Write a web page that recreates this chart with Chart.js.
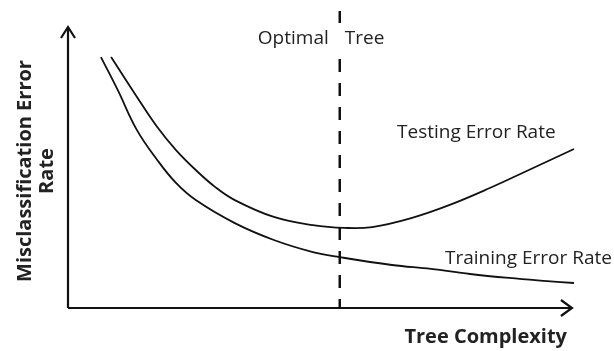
<!DOCTYPE html>
<html lang="en">
<head>
    <meta charset="UTF-8">
    <title>Optimal Tree</title>
    <style>
        html, body { margin: 0; padding: 0; background: #fff; overflow: hidden; }
        .chart-container { width: 614px; height: 351px; }
    </style>
</head>
<body>
    <div class="chart-container">
        <canvas id="treeChart" width="614" height="351"></canvas>
    </div>

    <script src="https://cdn.jsdelivr.net/npm/chart.js"></script>
    <script>
        // values (x: complexity 0-100, y: error rate 0-100)
        const trainingX = [6.5, 9.8, 13.6, 17.6, 21.3, 25.2, 32.9, 40.6, 48.3, 53.6, 63.9, 71.6, 79.3, 87.0, 94.5, 99.8];
        const trainingY = [89.3, 77.6, 63.3, 52.7, 44.5, 38.4, 30.2, 24.2, 19.9, 18.1, 15.3, 13.9, 12.1, 10.7, 9.6, 8.9];
        const testingX = [8.5, 13.6, 17.6, 21.3, 25.2, 29.0, 32.9, 40.6, 48.3, 54.6, 60.0, 67.7, 75.3, 83.2, 90.9, 99.8];
        const testingY = [89.3, 75.1, 64.4, 56.2, 49.1, 43.1, 38.4, 32.4, 29.5, 28.5, 28.8, 32.0, 36.7, 42.7, 49.1, 56.6];
        const optimalX = 53.6;
        const axisEndX = 99.4;

        const xTitle = 'Tree Complexity';
        const yTitle = ['Misclassification Error', 'Rate'];
        const optimalLabel = ['Optimal', 'Tree'];
        const testingLabel = 'Testing Error Rate';
        const trainingLabel = 'Training Error Rate';

        const toPoints = (xs, ys) => xs.map((x, i) => ({ x: x, y: ys[i] }));

        // axes with arrow heads, dashed optimal line and the text labels
        const sketchPlugin = {
            id: 'sketch',
            beforeDatasetsDraw(chart) {
                const ctx = chart.ctx;
                const xs = chart.scales.x, ys = chart.scales.y;
                const x0 = xs.getPixelForValue(0), y0 = ys.getPixelForValue(0);
                const xEnd = xs.getPixelForValue(axisEndX);
                const yTop = ys.getPixelForValue(100);
                const xOpt = xs.getPixelForValue(optimalX);

                ctx.save();
                ctx.strokeStyle = '#111';
                ctx.lineWidth = 2.2;
                ctx.lineCap = 'butt';
                // axes
                ctx.beginPath();
                ctx.moveTo(x0, y0);
                ctx.lineTo(x0, yTop + 1);
                ctx.moveTo(x0, y0);
                ctx.lineTo(xEnd - 1, y0);
                ctx.stroke();
                // arrow heads
                ctx.lineJoin = 'miter';
                ctx.beginPath();
                ctx.moveTo(x0 - 7, yTop + 11);
                ctx.lineTo(x0, yTop);
                ctx.lineTo(x0 + 7, yTop + 11);
                ctx.moveTo(xEnd - 11, y0 - 8);
                ctx.lineTo(xEnd, y0);
                ctx.lineTo(xEnd - 11, y0 + 8);
                ctx.stroke();

                // dashed optimal tree line, broken where the label sits
                ctx.lineWidth = 2.5;
                ctx.setLineDash([13, 11]);
                ctx.beginPath();
                ctx.moveTo(xOpt, 11);
                ctx.lineTo(xOpt, 23);
                ctx.stroke();
                ctx.beginPath();
                ctx.moveTo(xOpt, 59);
                ctx.lineTo(xOpt, y0);
                ctx.stroke();
                ctx.setLineDash([]);

                // labels
                ctx.fillStyle = '#222';
                ctx.textBaseline = 'middle';
                ctx.font = '19px "Open Sans", sans-serif';
                ctx.textAlign = 'right';
                ctx.fillText(optimalLabel[0], xOpt - 11, 39);
                ctx.textAlign = 'left';
                ctx.fillText(optimalLabel[1], xOpt + 5, 39);
                ctx.fillText(testingLabel, 397, 133);
                ctx.fillText(trainingLabel, 445, 259);

                ctx.font = 'bold 20px "Open Sans", sans-serif';
                ctx.textAlign = 'right';
                ctx.fillText(xTitle, 567, 337);

                ctx.save();
                ctx.translate(25, 171);
                ctx.rotate(-Math.PI / 2);
                ctx.textAlign = 'center';
                ctx.fillText(yTitle[0], 0, 0);
                ctx.fillText(yTitle[1], 0, 22);
                ctx.restore();
                ctx.restore();
            }
        };

        new Chart(document.getElementById('treeChart').getContext('2d'), {
            type: 'line',
            data: {
                datasets: [{
                    label: trainingLabel,
                    data: toPoints(trainingX, trainingY),
                    borderColor: '#111',
                    borderWidth: 1.8,
                    pointRadius: 0,
                    tension: 0.4,
                    fill: false
                }, {
                    label: testingLabel,
                    data: toPoints(testingX, testingY),
                    borderColor: '#111',
                    borderWidth: 1.8,
                    pointRadius: 0,
                    tension: 0.4,
                    fill: false
                }]
            },
            options: {
                responsive: false,
                animation: false,
                devicePixelRatio: 1,
                layout: { padding: { left: 68, right: 39, top: 27, bottom: 43 } },
                plugins: {
                    legend: { display: false },
                    tooltip: { enabled: false }
                },
                scales: {
                    x: { type: 'linear', min: 0, max: 100, display: false },
                    y: { type: 'linear', min: 0, max: 100, display: false }
                }
            },
            plugins: [sketchPlugin]
        });
    </script>
</body>
</html>
